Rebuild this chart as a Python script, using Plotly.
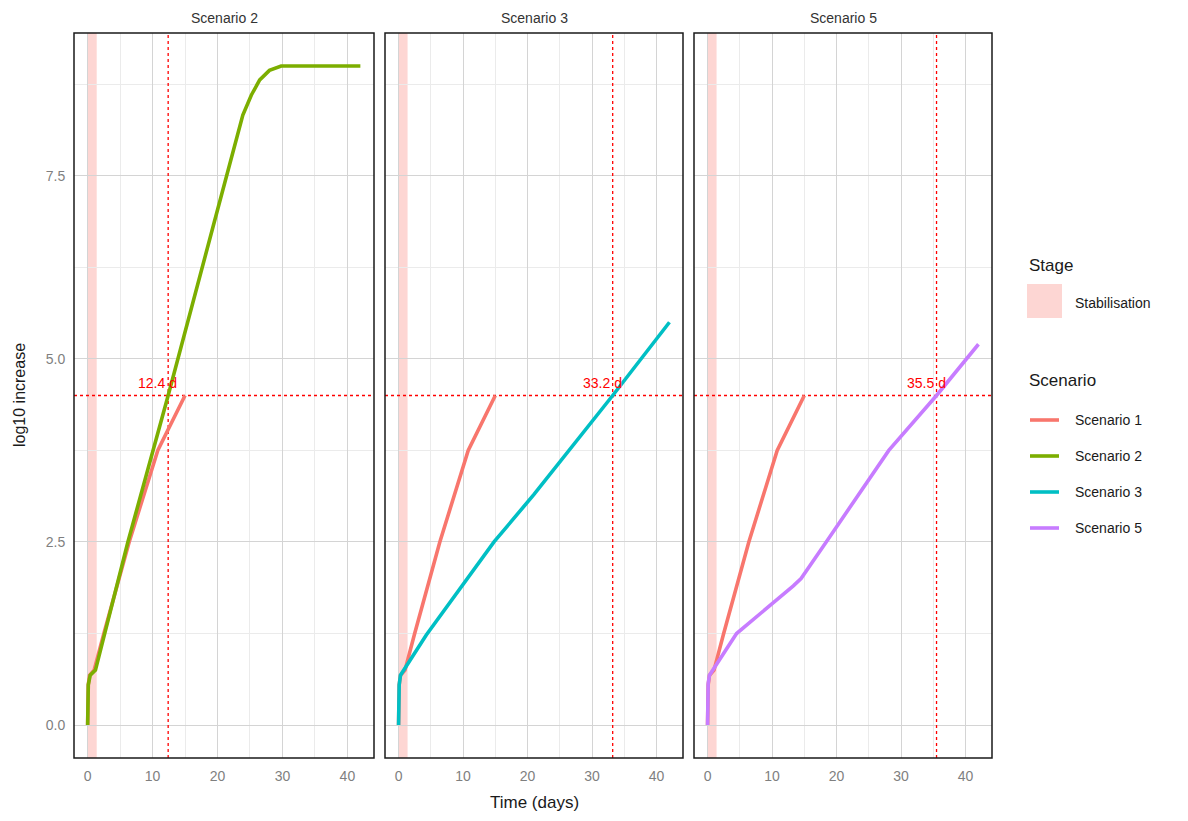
import plotly.graph_objects as go

# ---------------- data ----------------
panels = ["Scenario 2", "Scenario 3", "Scenario 5"]
thresholds = [12.4, 33.2, 35.5]
threshold_labels = ["12.4 d", "33.2 d", "35.5 d"]
target_log = 4.5
stab_start = 0.0
stab_end = 1.4

s1_x = [0, 0.1, 0.3, 1.0, 2.5, 6.4, 10.8, 15.0]
s1_y = [0, 0.55, 0.68, 0.75, 1.25, 2.5, 3.75, 4.5]

s2_x = [0, 0.1, 0.4, 1.2, 6.2, 12.4, 19.3, 23.9, 25.2, 26.5, 28.0, 29.8, 42.0]
s2_y = [0, 0.55, 0.68, 0.75, 2.5, 4.5, 6.8, 8.33, 8.6, 8.81, 8.94, 9.0, 9.0]

s3_x = [0, 0.1, 0.3, 0.8, 4.3, 14.8, 21.0, 33.2, 42.0]
s3_y = [0, 0.55, 0.68, 0.75, 1.23, 2.5, 3.15, 4.5, 5.5]

s5_x = [0, 0.1, 0.3, 0.8, 4.5, 13.3, 14.5, 18.4, 28.1, 35.5, 42.0]
s5_y = [0, 0.57, 0.68, 0.75, 1.25, 1.9, 2.0, 2.5, 3.75, 4.5, 5.2]

series_names = ["Scenario 1", "Scenario 2", "Scenario 3", "Scenario 5"]
series_colors = ["#F8766D", "#7CAE00", "#00BFC4", "#C77CFF"]
stab_color = "rgba(248,118,109,0.3)"

x_ticks = [0, 10, 20, 30, 40]
y_ticks = [0.0, 2.5, 5.0, 7.5]
y_tick_text = ["0.0", "2.5", "5.0", "7.5"]
x_range = [-2.1, 44.1]
y_range = [-0.45, 9.45]

# ---------------- layout geometry (page pixels, body has 8px margin) ----------------
OFF = 8
W, H = 1188 - OFF, 821 - OFF
PLOT_L, PLOT_R, PLOT_T, PLOT_B = 74, 992, 33, 758   # page pixel bounds of plotting area
ML = PLOT_L - OFF
MT = PLOT_T - OFF
MR = W - (PLOT_R - OFF)
MB = H - (PLOT_B - OFF)
PW = PLOT_R - PLOT_L
PH = PLOT_B - PLOT_T
panel_px = [(74, 374), (385, 683), (694, 992)]


def px2x(px):
    return (px - PLOT_L) / PW


def py2y(py):
    return (PLOT_B - py) / PH


FONT = "Liberation Sans, Arial, sans-serif"
RED = "#FF0000"

fig = go.Figure()

panel_series = [
    (s2_x, s2_y, 1),
    (s3_x, s3_y, 2),
    (s5_x, s5_y, 3),
]

for i, (sx, sy, ci) in enumerate(panel_series):
    xa = "x" if i == 0 else f"x{i+1}"
    ya = "y" if i == 0 else f"y{i+1}"
    # threshold reference lines (dotted red)
    fig.add_trace(go.Scatter(x=x_range, y=[target_log, target_log], mode="lines", xaxis=xa, yaxis=ya,
                             line=dict(color=RED, width=1.3, dash="dot"), showlegend=False,
                             hoverinfo="skip"))
    fig.add_trace(go.Scatter(x=[thresholds[i], thresholds[i]], y=y_range, mode="lines", xaxis=xa,
                             yaxis=ya, line=dict(color=RED, width=1.3, dash="dot"), showlegend=False,
                             hoverinfo="skip"))
    fig.add_trace(go.Scatter(x=s1_x, y=s1_y, mode="lines", xaxis=xa, yaxis=ya,
                             line=dict(color=series_colors[0], width=3.6),
                             showlegend=False, name=series_names[0]))
    fig.add_trace(go.Scatter(x=sx, y=sy, mode="lines", xaxis=xa, yaxis=ya,
                             line=dict(color=series_colors[ci], width=3.6),
                             showlegend=False, name=series_names[ci]))

shapes = []
annotations = []
for i in range(3):
    xr = "x" if i == 0 else f"x{i+1}"
    yr = "y" if i == 0 else f"y{i+1}"
    # stabilisation band
    shapes.append(dict(type="rect", xref=xr, yref=f"{yr} domain", x0=stab_start, x1=stab_end,
                       y0=0, y1=1, fillcolor=stab_color, line=dict(width=0), layer="below"))
    # panel border
    shapes.append(dict(type="rect", xref=f"{xr} domain", yref=f"{yr} domain", x0=0, x1=1, y0=0, y1=1,
                       line=dict(color="#1a1a1a", width=1.5), layer="above"))
    annotations.append(dict(xref=xr, yref=yr, x=thresholds[i] - 1.6, y=target_log + 0.17,
                            xanchor="center", yanchor="middle",
                            text=threshold_labels[i], showarrow=False,
                            font=dict(family=FONT, size=14, color=RED)))
    annotations.append(dict(xref="paper", yref="paper", x=px2x(sum(panel_px[i]) / 2), y=py2y(18),
                            xanchor="center", yanchor="middle", text=panels[i], showarrow=False,
                            font=dict(family=FONT, size=14, color="#333333")))

# axis titles
annotations.append(dict(xref="paper", yref="paper", x=px2x(534), y=py2y(802), xanchor="center",
                        yanchor="middle", text="Time (days)",
                        showarrow=False, font=dict(family=FONT, size=17, color="#1a1a1a")))
annotations.append(dict(xref="paper", yref="paper", x=px2x(19), y=py2y(395), xanchor="center",
                        yanchor="middle", text="log10 increase",
                        textangle=-90, showarrow=False, font=dict(family=FONT, size=16, color="#1a1a1a")))

# legend: Stage
annotations.append(dict(xref="paper", yref="paper", x=px2x(1027), y=py2y(265), xanchor="left",
                        yanchor="middle", text="Stage", showarrow=False,
                        font=dict(family=FONT, size=17, color="#1a1a1a")))
shapes.append(dict(type="rect", xref="paper", yref="paper", x0=px2x(1027), x1=px2x(1062),
                   y0=py2y(318), y1=py2y(284), fillcolor=stab_color, line=dict(width=0)))
annotations.append(dict(xref="paper", yref="paper", x=px2x(1073), y=py2y(303), xanchor="left",
                        yanchor="middle", text="Stabilisation", showarrow=False,
                        font=dict(family=FONT, size=14, color="#1a1a1a")))
# legend: Scenario
annotations.append(dict(xref="paper", yref="paper", x=px2x(1027), y=py2y(380), xanchor="left",
                        yanchor="middle", text="Scenario", showarrow=False,
                        font=dict(family=FONT, size=17, color="#1a1a1a")))
for k, (nm, col) in enumerate(zip(series_names, series_colors)):
    py = 420 + k * 36
    shapes.append(dict(type="line", xref="paper", yref="paper", x0=px2x(1030), x1=px2x(1059),
                       y0=py2y(py), y1=py2y(py), line=dict(color=col, width=3.6)))
    annotations.append(dict(xref="paper", yref="paper", x=px2x(1073), y=py2y(py), xanchor="left",
                            yanchor="middle", text=nm, showarrow=False,
                            font=dict(family=FONT, size=14, color="#1a1a1a")))

axis_common = dict(
    range=x_range, tickvals=x_ticks, showgrid=True, gridcolor="#d4d4d4", gridwidth=1.1,
    zeroline=False, showline=False, ticks="outside", ticklen=5, tickcolor="rgba(0,0,0,0)",
    tickfont=dict(family=FONT, size=14, color="#7f7f7f"),
    minor=dict(dtick=5, tick0=0, showgrid=True, gridcolor="#ebebeb", gridwidth=0.8, ticks=""),
)
yaxis_common = dict(
    range=y_range, tickvals=y_ticks, ticktext=y_tick_text, showgrid=True, gridcolor="#d4d4d4",
    gridwidth=1.1, zeroline=False, showline=False, ticks="outside", ticklen=5,
    tickcolor="rgba(0,0,0,0)", tickfont=dict(family=FONT, size=14, color="#7f7f7f"),
    minor=dict(dtick=1.25, tick0=0, showgrid=True, gridcolor="#ebebeb", gridwidth=0.8, ticks=""),
    domain=[0, 1],
)

layout = dict(width=W, height=H, margin=dict(l=ML, r=MR, t=MT, b=MB),
              paper_bgcolor="white", plot_bgcolor="white", showlegend=False,
              shapes=shapes, annotations=annotations, font=dict(family=FONT))
for i, (a, b) in enumerate(panel_px):
    xk = "xaxis" if i == 0 else f"xaxis{i+1}"
    yk = "yaxis" if i == 0 else f"yaxis{i+1}"
    layout[xk] = dict(axis_common, domain=[px2x(a), px2x(b)], anchor="y" if i == 0 else f"y{i+1}")
    ydict = dict(yaxis_common, anchor="x" if i == 0 else f"x{i+1}")
    if i > 0:
        ydict["showticklabels"] = False
    layout[yk] = ydict

fig.update_layout(**layout)
fig.write_html("out.html")
